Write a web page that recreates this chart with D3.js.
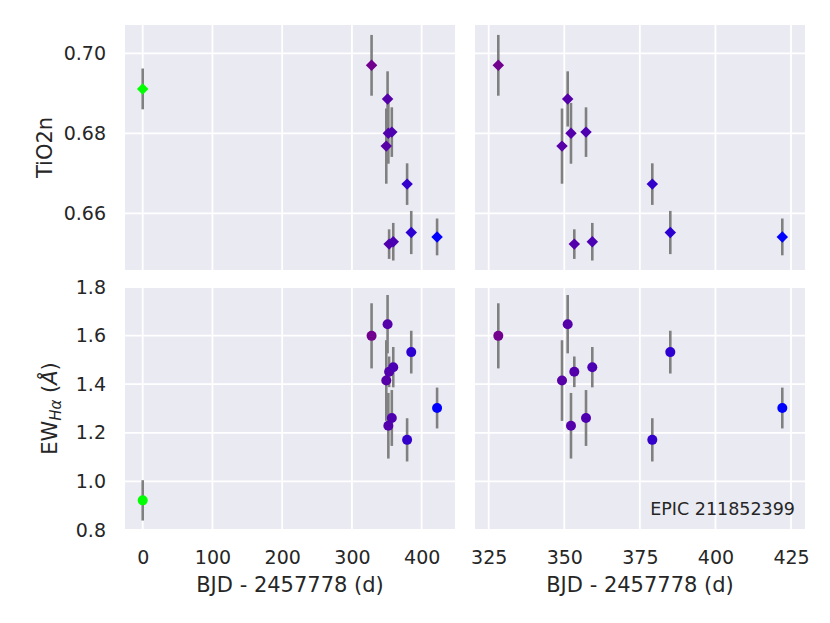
<!DOCTYPE html>
<html>
<head>
<meta charset="utf-8">
<script src="https://cdn.jsdelivr.net/npm/d3@7"></script>
<style>
  body { margin: 0; background: #fff; }
  text { font-family: "DejaVu Sans", sans-serif; fill: #262626; }
</style>
</head>
<body>
<svg id="chart" width="830" height="623"></svg>
<script>
// observation times, BJD - 2457778 (d)
const times = [0, 328.18, 349.25, 351.13, 352.22, 353.32, 357.19, 359.27, 379.12, 385.07, 422.12];
// TiO2n index and its error
const tio2n = [0.6911, 0.6970, 0.6768, 0.6886, 0.6800, 0.6523, 0.6803, 0.6529, 0.6673, 0.6552, 0.6541];
const tio2nErr = [0.0051, 0.0076, 0.0094, 0.0069, 0.0076, 0.0037, 0.0062, 0.0047, 0.0052, 0.0054, 0.0046];
// H-alpha equivalent width (A) and its error
const ewHa = [0.922, 1.599, 1.415, 1.647, 1.229, 1.451, 1.261, 1.470, 1.171, 1.532, 1.302];
const ewHaErr = [0.083, 0.134, 0.166, 0.120, 0.135, 0.063, 0.115, 0.083, 0.089, 0.088, 0.084];

const xTicksLeft = [0, 100, 200, 300, 400];
const xTicksRight = [325, 350, 375, 400, 425];
const yTicksTop = [0.66, 0.68, 0.70];
const yTicksBottom = [0.8, 1.0, 1.2, 1.4, 1.6, 1.8];
const starName = "EPIC 211852399";
const xLabel = "BJD - 2457778 (d)";

const svg = d3.select("#chart");

const cols = [
    {x0: 125, x1: 455, domain: [-25.4, 447.8], ticks: xTicksLeft},
    {x0: 475, x1: 805, domain: [320.47, 429.63], ticks: xTicksRight}
];
const rows = [
    {y0: 25, y1: 270, domain: [0.64583, 0.70708], ticks: yTicksTop, fmt: d3.format(".2f"),
     values: tio2n, errs: tio2nErr, marker: "diamond"},
    {y0: 287, y1: 530, domain: [0.80, 1.80], ticks: yTicksBottom, fmt: d3.format(".1f"),
     values: ewHa, errs: ewHaErr, marker: "circle"}
];

// brg_r colormap: green -> red -> blue over time
const tMax = d3.max(times);
const color = d3.scaleLinear()
    .domain([0, tMax / 2, tMax])
    .range(["#00ff00", "#ff0000", "#0000ff"])
    .interpolate(d3.interpolateRgb);

const diamond = d3.symbol().type(d3.symbolSquare).size(66);

rows.forEach(function(row, ri){
    cols.forEach(function(col, ci){
        let x = d3.scaleLinear().domain(col.domain).range([col.x0, col.x1]);
        let y = d3.scaleLinear().domain(row.domain).range([row.y1, row.y0]);
        let g = svg.append("g");

        g.append("rect")
            .attr("x", col.x0).attr("y", row.y0)
            .attr("width", col.x1 - col.x0).attr("height", row.y1 - row.y0)
            .attr("fill", "#eaeaf2");

        //grid
        g.selectAll(".vgrid").data(col.ticks).enter()
            .append("line")
            .attr("x1", d => x(d)).attr("x2", d => x(d))
            .attr("y1", row.y0).attr("y2", row.y1)
            .attr("stroke", "#fff").attr("stroke-width", 1.8);
        g.selectAll(".hgrid").data(row.ticks).enter()
            .append("line")
            .attr("x1", col.x0).attr("x2", col.x1)
            .attr("y1", d => y(d)).attr("y2", d => y(d))
            .attr("stroke", "#fff").attr("stroke-width", 1.8);

        //error bars
        g.selectAll(".err").data(times).enter()
            .append("line")
            .attr("x1", d => x(d)).attr("x2", d => x(d))
            .attr("y1", (d, i) => y(row.values[i] - row.errs[i]))
            .attr("y2", (d, i) => y(row.values[i] + row.errs[i]))
            .attr("stroke", "#808080").attr("stroke-width", 2.6);

        //markers
        if (row.marker === "diamond"){
            g.selectAll(".pt").data(times).enter()
                .append("path")
                .attr("d", diamond)
                .attr("transform", (d, i) => "translate(" + x(d) + "," + y(row.values[i]) + ") rotate(45)")
                .attr("fill", d => color(d));
        } else {
            g.selectAll(".pt").data(times).enter()
                .append("circle")
                .attr("cx", d => x(d)).attr("cy", (d, i) => y(row.values[i]))
                .attr("r", 5)
                .attr("fill", d => color(d));
        }

        //tick labels on the outer panels only
        if (ci === 0){
            let ax = g.append("g")
                .attr("transform", "translate(" + col.x0 + ",0)")
                .call(d3.axisLeft(y).tickValues(row.ticks).tickFormat(row.fmt).tickSize(0).tickPadding(19));
            ax.select(".domain").remove();
            ax.selectAll("text").attr("font-size", 19).attr("font-family", null).attr("fill", null);
        }
        if (ri === 1){
            let ax = g.append("g")
                .attr("transform", "translate(0," + row.y1 + ")")
                .call(d3.axisBottom(x).tickValues(col.ticks).tickFormat(d3.format("d")).tickSize(0).tickPadding(21));
            ax.select(".domain").remove();
            ax.selectAll("text").attr("font-size", 19).attr("font-family", null).attr("fill", null);

            svg.append("text")
                .attr("x", (col.x0 + col.x1) / 2).attr("y", 592)
                .attr("text-anchor", "middle").attr("font-size", 21)
                .text(xLabel);
        }
    });
});

svg.append("text")
    .attr("transform", "translate(51.5," + (rows[0].y0 + rows[0].y1) / 2 + ") rotate(-90)")
    .attr("text-anchor", "middle").attr("font-size", 21)
    .text("TiO2n");

let ewLabel = svg.append("text")
    .attr("transform", "translate(57," + (rows[1].y0 + rows[1].y1) / 2 + ") rotate(-90)")
    .attr("text-anchor", "middle").attr("font-size", 21);
ewLabel.append("tspan").text("EW");
ewLabel.append("tspan").attr("font-size", 15).attr("font-style", "italic").attr("dy", 4).text("Hα");
ewLabel.append("tspan").attr("dy", -4).text(" (");
ewLabel.append("tspan").attr("font-style", "italic").text("Å");
ewLabel.append("tspan").text(")");

svg.append("text")
    .attr("x", 795).attr("y", 515)
    .attr("text-anchor", "end").attr("font-size", 17.5)
    .text(starName);
</script>
</body>
</html>
